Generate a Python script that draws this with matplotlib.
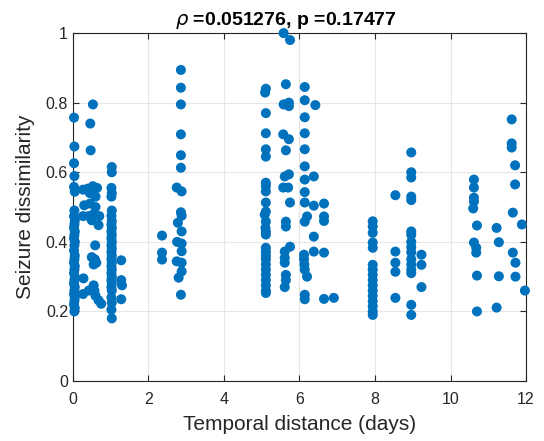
import matplotlib
matplotlib.use("Agg")
import matplotlib.pyplot as plt
import numpy as np

# temporal distance (days) / seizure dissimilarity, read column by column
x_day0 = [0.03, 0.04, 0.03, 0.04, 0.03, 0.05, 0.04, 0.03, 0.05, 0.04, 0.03, 0.05,
          0.04, 0.03, 0.05, 0.04, 0.03, 0.05, 0.04, 0.03, 0.05, 0.04, 0.03, 0.05,
          0.04, 0.03, 0.05, 0.04, 0.03, 0.05, 0.04, 0.03, 0.05, 0.04]
y_day0 = [0.757, 0.674, 0.626, 0.589, 0.558, 0.544, 0.49, 0.474, 0.46, 0.45, 0.44, 0.43,
          0.42, 0.41, 0.40, 0.39, 0.375, 0.36, 0.35, 0.34, 0.33, 0.32, 0.31, 0.30,
          0.29, 0.28, 0.27, 0.26, 0.25, 0.24, 0.23, 0.22, 0.21, 0.20]

x_half = [0.53, 0.46, 0.47, 0.27, 0.40, 0.53, 0.64, 0.45, 0.60, 0.30, 0.45, 0.60,
          0.27, 0.42, 0.55, 0.70, 0.50, 0.68, 0.59, 0.50, 0.58, 0.62, 0.55, 0.28,
          0.27, 0.42, 0.55, 0.57, 0.60, 0.68, 0.75]
y_half = [0.795, 0.74, 0.663, 0.55, 0.553, 0.56, 0.555, 0.54, 0.53, 0.505, 0.51, 0.50,
          0.474, 0.474, 0.48, 0.474, 0.462, 0.448, 0.39, 0.356, 0.35, 0.34, 0.335, 0.295,
          0.25, 0.26, 0.275, 0.26, 0.245, 0.232, 0.222]

x_day1 = [1.03, 1.03, 1.02, 1.03, 1.02, 1.03, 1.02, 1.03, 1.02, 1.03, 1.02, 1.03,
          1.02, 1.03, 1.02, 1.03, 1.02, 1.03, 1.02, 1.03, 1.02, 1.03, 1.02, 1.03,
          1.02, 1.03, 1.02, 1.03, 1.02, 1.03, 1.02, 1.03,
          1.28, 1.28, 1.30, 1.28]
y_day1 = [0.615, 0.60, 0.555, 0.54, 0.53, 0.49, 0.475, 0.46, 0.45, 0.44, 0.43, 0.42,
          0.41, 0.40, 0.39, 0.38, 0.37, 0.36, 0.35, 0.34, 0.33, 0.32, 0.31, 0.30,
          0.29, 0.28, 0.27, 0.26, 0.24, 0.225, 0.205, 0.18,
          0.347, 0.29, 0.275, 0.235]

x_day3 = [2.36, 2.36, 2.36,
          2.86, 2.86, 2.86, 2.86, 2.86, 2.86, 2.75, 2.88, 2.86, 2.88, 2.78, 2.88,
          2.76, 2.88, 2.88, 2.75, 2.88, 2.88, 2.80, 2.86]
y_day3 = [0.418, 0.369, 0.349,
          0.894, 0.843, 0.795, 0.709, 0.649, 0.613, 0.556, 0.545, 0.485, 0.475, 0.455, 0.43,
          0.40, 0.395, 0.373, 0.344, 0.34, 0.315, 0.297, 0.248]

x_day5 = [5.11, 5.09, 5.11, 5.11, 5.11, 5.11, 5.11, 5.11, 5.11, 5.11, 5.11, 5.08,
          5.11, 5.10, 5.11, 5.11, 5.11, 5.11, 5.11, 5.11, 5.11, 5.11, 5.11, 5.11,
          5.11, 5.11, 5.11]
y_day5 = [0.84, 0.829, 0.77, 0.712, 0.666, 0.645, 0.57, 0.56, 0.545, 0.513, 0.487, 0.478,
          0.458, 0.44, 0.429, 0.421, 0.383, 0.372, 0.36, 0.35, 0.335, 0.32, 0.305, 0.29,
          0.275, 0.26, 0.253]

x_day56 = [5.58, 5.75, 5.64, 5.58, 5.72, 5.72, 5.57, 5.72, 5.64, 5.72, 5.61, 5.57,
           5.70, 5.75, 5.64, 5.64, 5.75, 5.61, 5.61, 5.61, 5.64, 5.64, 5.61]
y_day56 = [1.0, 0.98, 0.853, 0.795, 0.80, 0.79, 0.709, 0.695, 0.663, 0.594, 0.588, 0.556,
           0.556, 0.513, 0.458, 0.444, 0.386, 0.372, 0.354, 0.34, 0.305, 0.29, 0.27]

x_day6 = [6.14, 6.14, 6.42, 6.14, 6.14, 6.14, 6.14, 6.14, 6.38, 6.14, 6.14, 6.38,
          6.65, 6.14, 6.20, 6.65, 6.65, 6.38, 6.38, 6.65, 6.12, 6.12, 6.13, 6.14,
          6.20, 6.14, 6.14, 6.65, 6.91]
y_day6 = [0.845, 0.807, 0.793, 0.758, 0.712, 0.666, 0.617, 0.579, 0.588, 0.543, 0.513, 0.504,
          0.51, 0.458, 0.473, 0.473, 0.46, 0.415, 0.372, 0.369, 0.363, 0.35, 0.335, 0.32,
          0.30, 0.248, 0.235, 0.236, 0.239]

x_day8 = [7.94] * 16 + [8.54] * 5 + [8.96] * 16 + [9.23] * 3
y_day8 = [0.459, 0.444, 0.426, 0.398, 0.383, 0.334, 0.32, 0.305, 0.29, 0.275, 0.26, 0.245,
          0.23, 0.215, 0.20, 0.19,
          0.534, 0.372, 0.34, 0.314, 0.239,
          0.657, 0.60, 0.585, 0.53, 0.52, 0.43, 0.42, 0.40, 0.385, 0.37, 0.35, 0.335,
          0.32, 0.31, 0.219, 0.19,
          0.363, 0.334, 0.27]

x_day11 = [10.62, 10.62, 10.62, 10.62, 10.60, 10.70, 10.62, 10.68, 10.68, 10.70, 10.70,
           11.22, 11.28, 11.28, 11.22,
           11.62, 11.62, 11.62, 11.71, 11.71, 11.65, 11.89, 11.65, 11.72, 11.72, 11.97]
y_day11 = [0.579, 0.556, 0.527, 0.516, 0.496, 0.447, 0.398, 0.383, 0.369, 0.303, 0.20,
           0.44, 0.399, 0.301, 0.211,
           0.752, 0.683, 0.671, 0.62, 0.565, 0.484, 0.45, 0.369, 0.34, 0.30, 0.26]

rho, pval = 0.051276, 0.17477

xs = np.concatenate([x_day0, x_half, x_day1, x_day3, x_day5, x_day56, x_day6, x_day8, x_day11])
ys = np.concatenate([y_day0, y_half, y_day1, y_day3, y_day5, y_day56, y_day6, y_day8, y_day11])

plt.rcParams["font.family"] = ["Liberation Sans", "DejaVu Sans"]
fig = plt.figure(figsize=(5.44, 4.41), dpi=100)
ax = fig.add_axes([0.134, 0.136, 0.833, 0.789])

ax.scatter(xs, ys, s=52, color="#0072BD", edgecolors="none", zorder=3, clip_on=False)

ax.set_xlim(0, 12)
ax.set_ylim(0, 1)
ax.set_xticks(np.arange(0, 13, 2))
ax.set_yticks(np.arange(0, 1.01, 0.2))
ax.set_yticklabels(["0", "0.2", "0.4", "0.6", "0.8", "1"])
ax.grid(True, color="#e6e6e6", linewidth=0.8, zorder=0)
ax.set_axisbelow(True)
for sp in ax.spines.values():
    sp.set_color("#262626")
    sp.set_linewidth(0.8)
ax.tick_params(direction="in", length=4, width=0.8, colors="#262626",
               labelsize=11.5, top=True, right=True, labeltop=False, labelright=False)
ax.tick_params(axis="x", pad=8)

ax.set_xlabel("Temporal distance (days)", fontsize=15, color="#262626", labelpad=6)
ax.set_ylabel("Seizure dissimilarity", fontsize=15, color="#262626", labelpad=8)
ax.set_title(rf"$\rho$ ={rho:g}, p ={pval:g}", fontsize=14, fontweight="bold",
             pad=6, x=0.47)

fig.savefig("out.png", dpi=100)
